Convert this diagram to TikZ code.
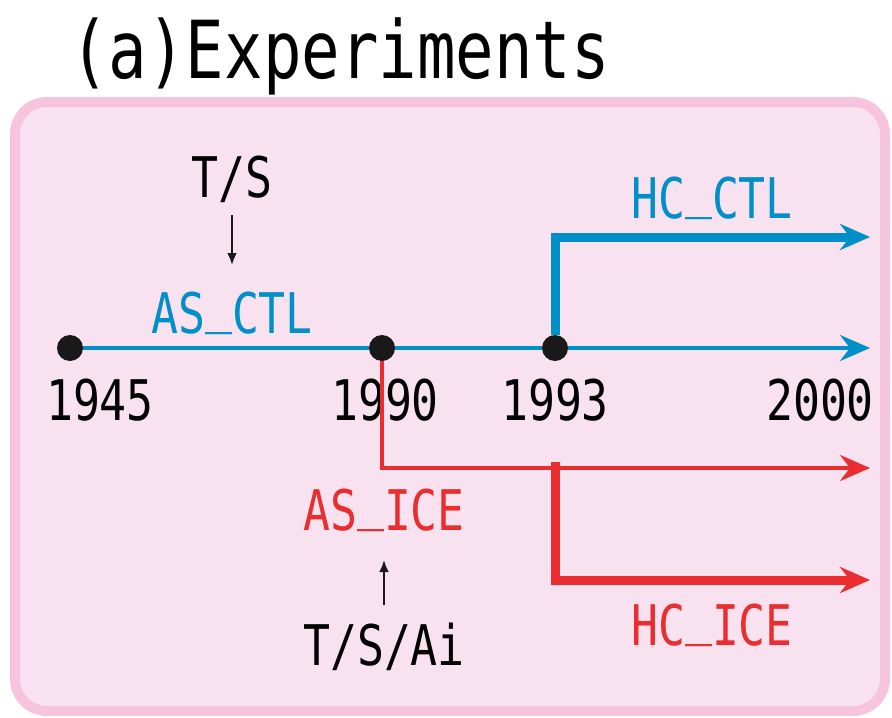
\documentclass[tikz,border=0pt]{standalone}
\usepackage{fontspec}
\newfontfamily\gothic[FakeStretch=0.8]{DejaVu Sans Mono}
\usetikzlibrary{arrows.meta}

\definecolor{ctlblue}{RGB}{0,143,200}
\definecolor{icered}{RGB}{234,45,46}
\definecolor{boxfill}{RGB}{249,226,239}
\definecolor{boxedge}{RGB}{246,196,220}

\newcommand{\usc}{\raisebox{0.2em}{\_}}

\tikzset{
  dot/.style={circle, fill=black!90, inner sep=0pt, minimum size=13pt},
  txt/.style={anchor=base, inner sep=1pt, font=\gothic\fontsize{28}{28}\selectfont},
  bigtip/.style={-{Stealth[length=15pt, width=13pt, inset=5pt]}},
  smalltip/.style={-{Latex[length=6pt, width=5pt]}, line width=1.3pt, black!90},
}

\begin{document}
\begin{tikzpicture}[x=0.5pt, y=-0.5pt]
\useasboundingbox (0,0) rectangle (892,717);

% === Title ===
\node[anchor=base west, inner sep=0pt, font=\gothic\fontsize{40}{40}\selectfont] (title) at (70,78) {(a)Experiments};

% === Frame ===
\draw[line width=5pt, draw=boxedge, fill=boxfill, rounded corners=16pt] (15,102) rectangle (885,711);

% === Time axis ===
\node[dot] (y1945) at (70,348) {};
\node[dot] (y1990) at (382,348) {};
\node[dot] (y1993) at (555,348) {};
\coordinate (axisend) at (870,348);

\node[txt] (t1945) at (100,420) {1945};
\node[txt] (t1990) at (385,420) {1990};
\node[txt] (t1993) at (555,420) {1993};
\node[txt] (t2000) at (820,420) {2000};

\draw[ctlblue, line width=1.7pt] (y1945) -- (y1990);
\draw[ctlblue, line width=1.7pt] (y1990) -- (y1993);
\draw[ctlblue, line width=1.7pt, bigtip] (y1993) -- (axisend);

% === Control runs ===
\node[txt] (forcectl) at (232,197) {T/S};
\node[txt, text=ctlblue] (asctl) at (232,333) {AS\usc CTL};
\draw[smalltip, shorten <=9pt, shorten >=34pt] (forcectl.base) -- (asctl.base);

\coordinate (hcctlend) at (870,237);
\node[txt, text=ctlblue] (hcctl) at (712,218) {HC\usc CTL};
\draw[ctlblue, line width=4.5pt, bigtip] (y1993.north) |- (hcctlend);

% === Sea-ice runs ===
\coordinate (asiceend) at (870,468);
\draw[icered, line width=1.7pt, bigtip] (y1990.south) |- (asiceend);

\coordinate (hcicestart) at (555,462);
\coordinate (hciceend) at (870,580);
\draw[icered, line width=4.5pt, bigtip] (hcicestart) |- (hciceend);

\node[txt, text=icered] (asice) at (384,530) {AS\usc ICE};
\node[txt, text=icered] (hcice) at (712,645) {HC\usc ICE};
\node[txt] (forceice) at (384,665) {T/S/Ai};
\draw[smalltip, shorten <=30pt, shorten >=15pt] (forceice.base) -- (asice.base);

\end{tikzpicture}
\end{document}
